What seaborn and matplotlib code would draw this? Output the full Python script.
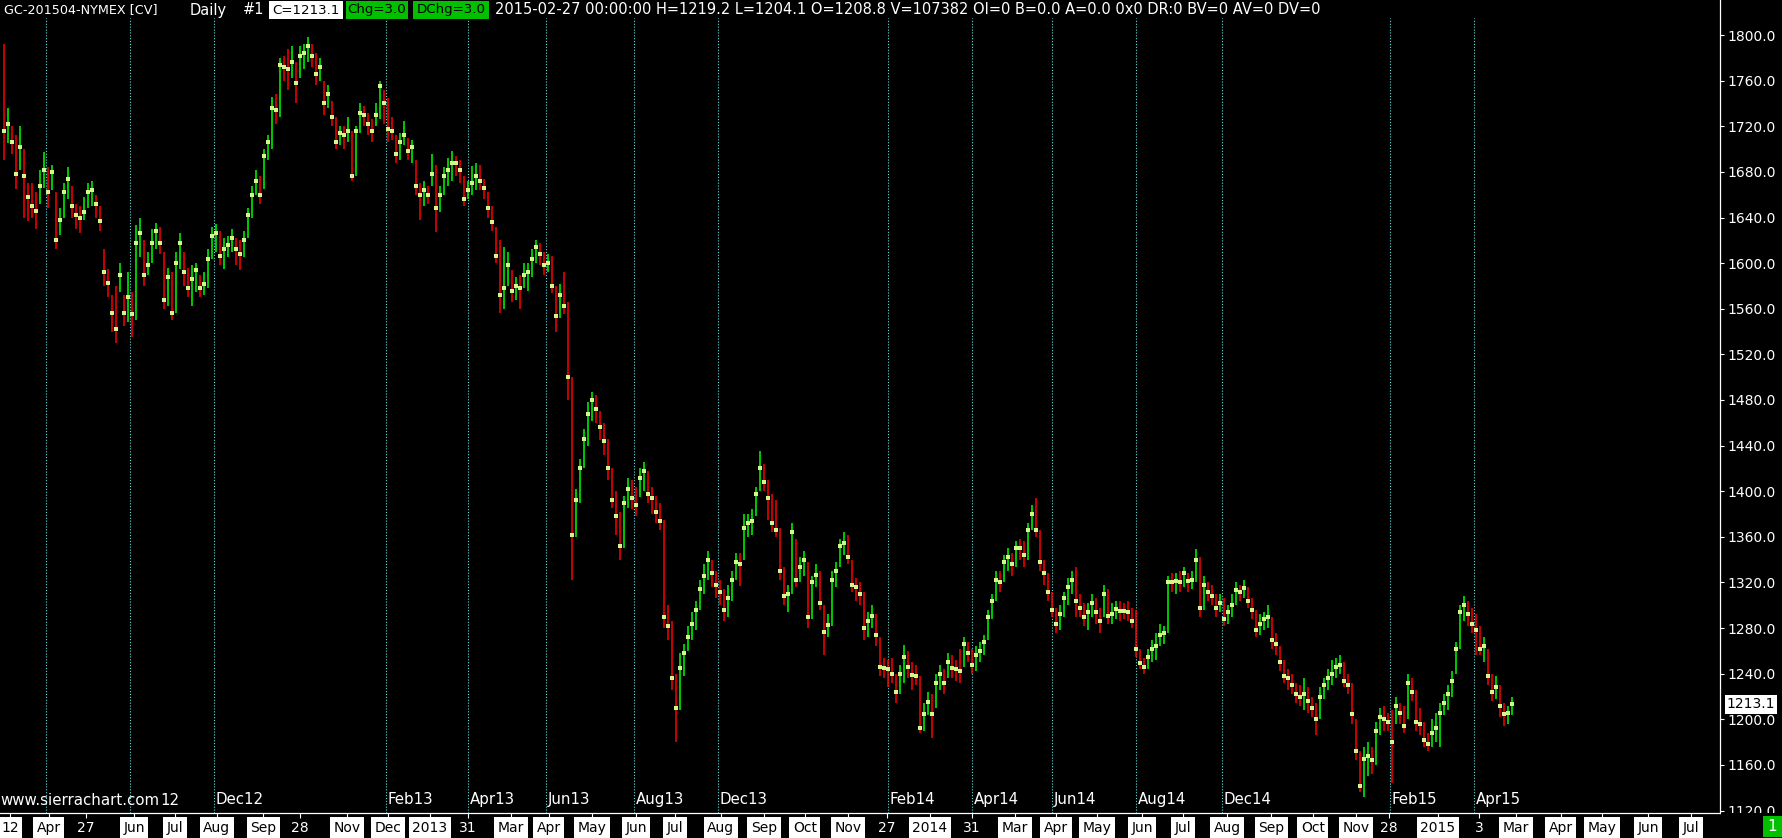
import numpy as np
import pandas as pd
import seaborn as sns
import matplotlib
matplotlib.use('Agg')
import matplotlib.pyplot as plt
from matplotlib.patches import Rectangle

close = [1716, 1722, 1706, 1678, 1702, 1676, 1658, 1650, 1646, 1668,
         1682, 1662, 1680, 1620, 1638, 1662, 1674, 1650, 1642, 1640,
         1645, 1662, 1664, 1652, 1637, 1592, 1583, 1556, 1542, 1590,
         1556, 1570, 1555, 1618, 1626, 1590, 1598, 1618, 1628, 1618,
         1568, 1588, 1556, 1600, 1618, 1592, 1578, 1586, 1594, 1578,
         1582, 1604, 1624, 1626, 1606, 1612, 1616, 1622, 1612, 1608,
         1620, 1642, 1660, 1672, 1660, 1694, 1706, 1736, 1734, 1774,
         1772, 1770, 1776, 1758, 1782, 1784, 1790, 1782, 1766, 1772,
         1740, 1748, 1728, 1706, 1714, 1712, 1716, 1676, 1716, 1732,
         1730, 1722, 1716, 1730, 1755, 1740, 1718, 1716, 1696, 1706,
         1712, 1698, 1702, 1668, 1660, 1664, 1660, 1678, 1648, 1660,
         1676, 1682, 1688, 1688, 1682, 1656, 1664, 1670, 1676, 1672,
         1666, 1648, 1636, 1606, 1572, 1578, 1598, 1576, 1580, 1578,
         1590, 1592, 1604, 1614, 1608, 1598, 1600, 1580, 1554, 1572,
         1562, 1500, 1362, 1392, 1420, 1446, 1468, 1480, 1472, 1456,
         1444, 1420, 1392, 1378, 1352, 1390, 1402, 1394, 1388, 1412,
         1418, 1398, 1394, 1382, 1374, 1290, 1282, 1236, 1210, 1245,
         1258, 1272, 1284, 1296, 1314, 1326, 1340, 1328, 1318, 1312,
         1296, 1306, 1322, 1338, 1336, 1368, 1372, 1374, 1398, 1420,
         1408, 1394, 1372, 1366, 1330, 1308, 1310, 1364, 1322, 1334,
         1340, 1290, 1320, 1327, 1302, 1277, 1283, 1322, 1330, 1352,
         1355, 1342, 1318, 1316, 1310, 1280, 1286, 1291, 1274, 1246,
         1245, 1244, 1240, 1224, 1240, 1255, 1246, 1239, 1238, 1192,
         1205, 1215, 1205, 1232, 1240, 1232, 1250, 1245, 1244, 1242,
         1266, 1258, 1248, 1256, 1260, 1268, 1290, 1304, 1322, 1320,
         1338, 1342, 1336, 1350, 1350, 1344, 1366, 1380, 1366, 1338,
         1328, 1312, 1296, 1284, 1292, 1306, 1316, 1322, 1304, 1298,
         1290, 1294, 1302, 1294, 1286, 1310, 1291, 1292, 1297, 1295,
         1295, 1294, 1286, 1262, 1249, 1246, 1255, 1262, 1264, 1274,
         1276, 1320, 1320, 1321, 1320, 1328, 1321, 1322, 1340, 1298,
         1318, 1312, 1308, 1298, 1302, 1288, 1294, 1300, 1313, 1312,
         1315, 1304, 1296, 1278, 1284, 1288, 1290, 1270, 1266, 1250,
         1238, 1236, 1230, 1222, 1220, 1222, 1216, 1210, 1200, 1220,
         1230, 1236, 1240, 1246, 1248, 1234, 1230, 1205, 1172, 1142,
         1165, 1168, 1164, 1190, 1202, 1200, 1198, 1180, 1212, 1206,
         1194, 1232, 1224, 1198, 1196, 1182, 1178, 1188, 1192, 1206,
         1214, 1222, 1234, 1262, 1294, 1300, 1292, 1284, 1278, 1262,
         1264, 1238, 1224, 1228, 1212, 1205, 1206, 1213.1]

high = [1792, 1736, 1720, 1712, 1720, 1700, 1670, 1670, 1662, 1682,
        1697, 1684, 1686, 1662, 1648, 1670, 1684, 1668, 1652, 1650,
        1658, 1670, 1672, 1660, 1650, 1612, 1595, 1572, 1580, 1600,
        1572, 1592, 1575, 1633, 1640, 1620, 1610, 1630, 1635, 1632,
        1610, 1596, 1592, 1610, 1626, 1610, 1596, 1598, 1600, 1590,
        1592, 1612, 1632, 1634, 1628, 1622, 1624, 1630, 1622, 1620,
        1628, 1648, 1668, 1682, 1676, 1700, 1712, 1746, 1748, 1780,
        1782, 1788, 1790, 1776, 1790, 1792, 1798, 1792, 1784, 1780,
        1760, 1756, 1742, 1728, 1720, 1720, 1728, 1716, 1720, 1740,
        1738, 1732, 1726, 1740, 1760, 1752, 1745, 1728, 1712, 1714,
        1725, 1710, 1708, 1690, 1670, 1672, 1668, 1696, 1686, 1668,
        1684, 1692, 1698, 1694, 1690, 1676, 1672, 1685, 1688, 1686,
        1674, 1662, 1650, 1632, 1620, 1614, 1610, 1594, 1588, 1590,
        1600, 1600, 1612, 1620, 1618, 1610, 1608, 1606, 1580, 1582,
        1592, 1566, 1500, 1402, 1428, 1455, 1478, 1487, 1484, 1470,
        1460, 1446, 1420, 1400, 1382, 1396, 1412, 1410, 1404, 1420,
        1426, 1418, 1404, 1396, 1390, 1375, 1300, 1286, 1240, 1258,
        1266, 1282, 1294, 1304, 1322, 1336, 1348, 1340, 1330, 1322,
        1314, 1318, 1330, 1346, 1346, 1380, 1380, 1384, 1404, 1435,
        1424, 1410, 1398, 1392, 1368, 1334, 1318, 1372, 1358, 1342,
        1348, 1338, 1326, 1336, 1330, 1300, 1292, 1330, 1338, 1358,
        1364, 1362, 1340, 1324, 1320, 1312, 1294, 1300, 1292, 1272,
        1254, 1252, 1254, 1240, 1248, 1265, 1260, 1250, 1248, 1238,
        1214, 1224, 1222, 1240, 1248, 1244, 1258, 1256, 1252, 1262,
        1272, 1268, 1262, 1264, 1268, 1274, 1296, 1310, 1330, 1330,
        1344, 1350, 1346, 1356, 1358, 1356, 1372, 1388, 1394, 1366,
        1340, 1328, 1312, 1298, 1300, 1312, 1324, 1330, 1334, 1310,
        1302, 1302, 1310, 1306, 1298, 1318, 1314, 1302, 1304, 1304,
        1302, 1304, 1298, 1296, 1262, 1254, 1262, 1270, 1276, 1284,
        1282, 1326, 1328, 1328, 1330, 1334, 1328, 1330, 1349, 1342,
        1326, 1320, 1318, 1310, 1310, 1306, 1300, 1310, 1320, 1318,
        1322, 1316, 1306, 1296, 1292, 1294, 1300, 1290, 1276, 1264,
        1252, 1244, 1240, 1232, 1230, 1236, 1228, 1220, 1214, 1228,
        1236, 1244, 1252, 1254, 1256, 1250, 1240, 1232, 1200, 1172,
        1176, 1180, 1176, 1198, 1210, 1212, 1206, 1208, 1220, 1214,
        1212, 1240, 1236, 1226, 1210, 1198, 1188, 1200, 1206, 1214,
        1222, 1230, 1242, 1268, 1300, 1308, 1304, 1298, 1292, 1282,
        1272, 1262, 1240, 1238, 1230, 1214, 1212, 1219.2]

low = [1690, 1705, 1696, 1665, 1682, 1640, 1637, 1640, 1630, 1652,
       1666, 1648, 1664, 1612, 1625, 1640, 1656, 1640, 1630, 1626,
       1638, 1648, 1650, 1640, 1628, 1580, 1570, 1540, 1530, 1575,
       1545, 1548, 1535, 1550, 1605, 1580, 1590, 1600, 1612, 1608,
       1560, 1562, 1550, 1556, 1595, 1580, 1570, 1562, 1575, 1570,
       1572, 1578, 1604, 1610, 1598, 1595, 1605, 1610, 1598, 1594,
       1605, 1622, 1640, 1660, 1652, 1665, 1690, 1700, 1722, 1728,
       1760, 1752, 1762, 1740, 1762, 1770, 1776, 1772, 1756, 1760,
       1730, 1736, 1720, 1700, 1704, 1700, 1706, 1672, 1676, 1714,
       1720, 1712, 1706, 1720, 1726, 1722, 1706, 1708, 1688, 1690,
       1704, 1690, 1688, 1660, 1638, 1650, 1652, 1668, 1627, 1645,
       1660, 1668, 1672, 1676, 1670, 1650, 1656, 1660, 1664, 1664,
       1656, 1640, 1628, 1600, 1556, 1560, 1580, 1566, 1568, 1560,
       1578, 1576, 1588, 1600, 1598, 1590, 1592, 1574, 1540, 1552,
       1555, 1480, 1322, 1360, 1390, 1420, 1440, 1462, 1460, 1445,
       1432, 1410, 1385, 1362, 1340, 1350, 1385, 1384, 1378, 1395,
       1400, 1390, 1380, 1372, 1366, 1280, 1270, 1226, 1180, 1208,
       1238, 1260, 1270, 1278, 1296, 1310, 1322, 1316, 1306, 1300,
       1286, 1290, 1304, 1322, 1317, 1340, 1360, 1362, 1378, 1400,
       1400, 1375, 1364, 1360, 1322, 1300, 1294, 1310, 1316, 1320,
       1326, 1280, 1288, 1316, 1296, 1256, 1272, 1282, 1316, 1334,
       1344, 1336, 1312, 1304, 1300, 1270, 1272, 1280, 1264, 1238,
       1236, 1228, 1232, 1214, 1222, 1232, 1236, 1226, 1230, 1188,
       1190, 1204, 1184, 1210, 1226, 1222, 1236, 1236, 1234, 1232,
       1246, 1250, 1240, 1242, 1250, 1256, 1270, 1288, 1304, 1312,
       1320, 1330, 1326, 1334, 1340, 1334, 1340, 1366, 1360, 1330,
       1318, 1304, 1290, 1276, 1278, 1290, 1300, 1310, 1290, 1290,
       1282, 1278, 1290, 1284, 1276, 1290, 1284, 1284, 1288, 1286,
       1288, 1286, 1280, 1255, 1244, 1240, 1244, 1250, 1252, 1264,
       1266, 1276, 1312, 1310, 1312, 1316, 1312, 1314, 1320, 1290,
       1296, 1304, 1300, 1290, 1294, 1282, 1284, 1290, 1300, 1304,
       1306, 1298, 1288, 1272, 1274, 1278, 1280, 1262, 1256, 1242,
       1232, 1226, 1222, 1214, 1212, 1208, 1206, 1202, 1186, 1200,
       1218, 1226, 1230, 1236, 1240, 1228, 1222, 1196, 1164, 1136,
       1132, 1150, 1152, 1160, 1186, 1190, 1190, 1144, 1196, 1196,
       1188, 1200, 1216, 1190, 1186, 1176, 1172, 1176, 1180, 1176,
       1204, 1208, 1220, 1240, 1262, 1286, 1282, 1276, 1256, 1256,
       1250, 1230, 1216, 1218, 1202, 1194, 1196, 1204.1]

first_open = 1786

# contract roll lines (bar position, label); the first two labels sit under the watermark
roll_bars = [10.5, 31.5, 52.5, 95.5, 116, 135.5, 157.5, 178.5, 221, 242,
             262, 283, 304.5, 346.5, 367.5]
roll_labels = ['', '', 'Dec12', 'Feb13', 'Apr13', 'Jun13', 'Aug13',
               'Dec13', 'Feb14', 'Apr14', 'Jun14', 'Aug14', 'Dec14', 'Feb15', 'Apr15']

# date axis
date_pos = [1.5, 11.2, 20.5, 32.5, 42.8, 53.2, 64.8, 74, 85.8, 96, 106.5, 116,
            126.8, 136.2, 147, 158, 167.8, 179.2, 190, 200.2, 211, 220.8, 231.5,
            242, 252.8, 263, 273.2, 284.5, 294.8, 305.8, 316.8, 327.2, 338, 346.2,
            358.5, 368.8, 378, 389.2, 399.5, 411, 421.8]
date_labels = ['12', 'Apr', '27', 'Jun', 'Jul', 'Aug', 'Sep', '28', 'Nov', 'Dec',
               '2013', '31', 'Mar', 'Apr', 'May', 'Jun', 'Jul', 'Aug', 'Sep', 'Oct',
               'Nov', '27', '2014', '31', 'Mar', 'Apr', 'May', 'Jun', 'Jul', 'Aug',
               'Sep', 'Oct', 'Nov', '28', '2015', '3', 'Mar', 'Apr', 'May', 'Jun', 'Jul']
plain_dates = {'27', '28', '31', '3'}

price_ticks = list(range(1120, 1801, 40))

header_left = ['GC-201504-NYMEX [CV]', 'Daily', '#1']
header_boxes = ['C=1213.1', 'Chg=3.0', 'DChg=3.0']
header_tail = ('2015-02-27 00:00:00 H=1219.2 L=1204.1 O=1208.8 V=107382 OI=0 '
               'B=0.0 A=0.0 0x0 DR:0 BV=0 AV=0 DV=0')

sns.set_theme(style='dark', rc={'axes.facecolor': 'black', 'figure.facecolor': 'black'})
plt.rcParams['font.family'] = ['DejaVu Sans']

W, H = 1783, 838
fig = plt.figure(figsize=(W / 100, H / 100), dpi=100)
fig.patch.set_facecolor('black')
ax = fig.add_axes([0, 25 / H, 1720 / W, 813 / H])
ax.set_facecolor('black')

bars = pd.DataFrame({'bar': np.arange(len(close)), 'high': high, 'low': low, 'close': close})
bars['open'] = [first_open] + close[:-1]
bars['up'] = bars['close'] > bars['open']

ax.vlines(bars['bar'], bars['low'], bars['high'],
          colors=np.where(bars['up'], '#00ff00', '#ff0000'), lw=1.1, zorder=2)
sns.scatterplot(data=bars, x='bar', y='close', marker='s', s=8, color='#d2f88a',
                linewidth=0, legend=False, ax=ax, zorder=3)

ax.set_xlim(-1, 429)
ax.set_ylim(1117.9, 1830.7)
ax.set_xlabel('')
ax.set_ylabel('')
ax.grid(False)

for s in ['top', 'left']:
    ax.spines[s].set_visible(False)
for s in ['right', 'bottom']:
    ax.spines[s].set_visible(True)
    ax.spines[s].set_color('white')
    ax.spines[s].set_linewidth(0.9)

# roll lines and their labels
ax.vlines(roll_bars, 0, 0.978, transform=ax.get_xaxis_transform(), colors='#66dede',
          lw=0.8, linestyles=(0, (1, 1.6)), zorder=1)
for xb, lab in zip(roll_bars, roll_labels):
    if lab:
        ax.text(xb + 0.4, 0.016, lab, transform=ax.get_xaxis_transform(), color='white',
                fontsize=10.8, ha='left', va='center', zorder=4)

# price axis on the right
ax.yaxis.tick_right()
ax.set_yticks(price_ticks)
ax.set_yticklabels([f'{v:.1f}' for v in price_ticks])
ax.tick_params(axis='y', colors='white', length=3, width=0.8, pad=2, labelsize=10,
               right=True, left=False, direction='out')

ax.set_xticks(date_pos)
ax.set_xticklabels(date_labels, fontsize=10)
ax.tick_params(axis='x', colors='white', length=3.5, width=0.8, pad=2.2,
               bottom=True, direction='out')
for t in ax.get_xticklabels():
    if t.get_text() not in plain_dates:
        t.set_color('black')
        t.set_bbox(dict(facecolor='white', edgecolor='none', pad=2.6))

# last price marker
ax.text(1.004, close[-1], f'{close[-1]:.1f}', transform=ax.get_yaxis_transform(),
        color='black', fontsize=10, ha='left', va='center', zorder=6, clip_on=False,
        bbox=dict(facecolor='white', edgecolor='none', pad=1.5))

# watermark, with the tail of the roll label behind it
fig.text(0, 1 - 800 / H, 'www.sierrachart.com', color='white', fontsize=10.8,
         ha='left', va='center', zorder=5)
fig.text(160 / W, 1 - 800 / H, '12', color='white', fontsize=10.8,
         ha='left', va='center', zorder=5)

# lower right corner
fig.patches.append(Rectangle((1721 / W, 0), 62 / W, 25 / H, transform=fig.transFigure,
                             facecolor='black', edgecolor='none', zorder=4))
fig.patches.append(Rectangle((1763 / W, 1 / H), 19 / W, 21 / H, transform=fig.transFigure,
                             facecolor='#00c000', edgecolor='none', zorder=5))
fig.text(1772.5 / W, 11.5 / H, '1', color='white', fontsize=11,
         ha='center', va='center', zorder=6)

# header line
hy = 1 - 10 / H
for xp, txt, fs in zip([4, 190, 243], header_left, [9.2, 10.5, 10.5]):
    fig.text(xp / W, hy, txt, color='white', fontsize=fs,
             ha='left', va='center', zorder=6)
for (x0, x1), txt, fc in zip([(269, 343), (346, 408), (413, 489)], header_boxes,
                             ['white', '#00c000', '#00c000']):
    fig.patches.append(Rectangle((x0 / W, 1 - 19 / H), (x1 - x0) / W, 18 / H,
                                 transform=fig.transFigure, facecolor=fc,
                                 edgecolor='none', zorder=5))
    fig.text((x0 + x1) / 2 / W, hy, txt, color='black', fontsize=9.6,
             ha='center', va='center', zorder=6)
fig.text(495 / W, hy, header_tail, color='white', fontsize=10.5,
         ha='left', va='center', zorder=6)

fig.savefig('out.png', dpi=100, facecolor='black')
